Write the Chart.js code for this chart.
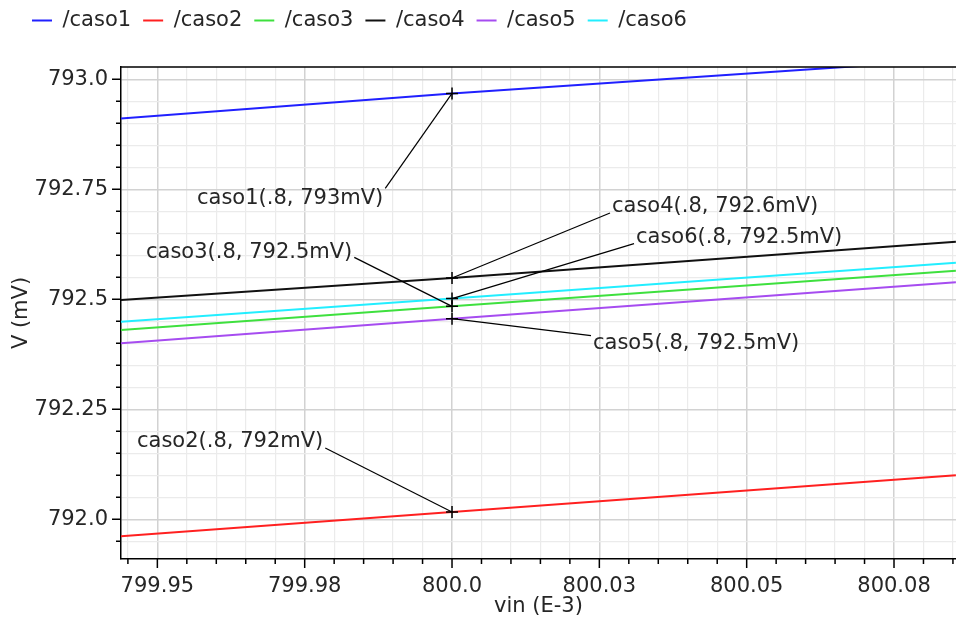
<!DOCTYPE html>
<html>
<head>
<meta charset="utf-8">
<script src="https://cdn.jsdelivr.net/npm/chart.js@4.4.1/dist/chart.umd.min.js"></script>
<style>
  html, body { margin: 0; padding: 0; background: #fff; }
  #wrap { width: 956px; height: 620px; position: relative; }
</style>
</head>
<body>
<div id="wrap"><canvas id="plot"></canvas></div>
<script>
// data (x in E-3 units, y in mV)
const xValues = [799.9438, 800.0, 800.0855];
const seriesNames = ["/caso1", "/caso2", "/caso3", "/caso4", "/caso5", "/caso6"];
const caso1 = [792.911, 792.968, 793.045];
const caso2 = [791.9614, 792.0166, 792.1];
const caso3 = [792.430, 792.484, 792.565];
const caso4 = [792.4984, 792.5484, 792.631];
const caso5 = [792.400, 792.456, 792.539];
const caso6 = [792.449, 792.5016, 792.583];
const markIndex = 1; // marker at vin = 800.0
const markLabels = [
    "caso1(.8, 793mV)",
    "caso2(.8, 792mV)",
    "caso3(.8, 792.5mV)",
    "caso4(.8, 792.6mV)",
    "caso5(.8, 792.5mV)",
    "caso6(.8, 792.5mV)",
];

const xMajorTicks = [799.95, 799.975, 800.0, 800.025, 800.05, 800.075];
const xTickLabels = ["799.95", "799.98", "800.0", "800.03", "800.05", "800.08"];
const yMajorTicks = [792.0, 792.25, 792.5, 792.75, 793.0];
const yTickLabels = ["792.0", "792.25", "792.5", "792.75", "793.0"];

const xMin = 799.94383, xMax = 800.08552;
const yMin = 791.9098, yMax = 793.028;

// styling / layout
const colors = ["#2020ff", "#ff2020", "#3ee03e", "#111111", "#a64cf0", "#22eeff"];
// label box: dx,dy from the marker (left edge / vertical middle of text), side the leader attaches, y shift of attach point
const labelLayout = [
    { dx: -255, dy: 105, side: "right", ay: -10 },
    { dx: -315, dy: -70, side: "right", ay: 6 },
    { dx: -306, dy: -54, side: "right", ay: 5 },
    { dx: 160, dy: -71, side: "left", ay: 6 },
    { dx: 141, dy: 25, side: "left", ay: -8 },
    { dx: 184, dy: -61, side: "left", ay: 6 },
];
const FONT = "DejaVu Sans";
const TEXT = "#262626";

function subTicks(majors, step, min, max) {
    const out = [];
    const start = Math.ceil((min - 1e-9) / step);
    const end = Math.floor((max + 1e-9) / step);
    for (let k = start; k <= end; k++) {
        const v = +(k * step).toFixed(6);
        if (v >= min && v <= max) out.push(v);
    }
    return out;
}
function isMajor(v, majors) {
    return majors.some(m => Math.abs(m - v) < 1e-6);
}
function labelFor(v, majors, labels) {
    const i = majors.findIndex(m => Math.abs(m - v) < 1e-6);
    return i >= 0 ? labels[i] : "";
}

const allSeries = [caso1, caso2, caso3, caso4, caso5, caso6];

const datasets = allSeries.map((vals, i) => ({
    label: seriesNames[i],
    data: vals.map((y, j) => ({ x: xValues[j], y: y })),
    borderColor: colors[i],
    backgroundColor: colors[i],
    borderWidth: 2,
    pointStyle: "cross",
    pointRadius: ctx => (ctx.dataIndex === markIndex ? 6 : 0),
    pointBorderColor: "#000",
    pointBorderWidth: 1.5,
    tension: 0,
}));

const refPlugin = {
    id: "refPlugin",
    beforeInit(chart) {
        const fit = chart.legend.fit;
        chart.legend.fit = function () {
            fit.call(this);
            this.height = 69;
        };
    },
    afterDatasetsDraw(chart) {
        const ctx = chart.ctx;
        ctx.save();
        ctx.font = "21px '" + FONT + "'";
        ctx.textBaseline = "middle";
        ctx.textAlign = "left";
        ctx.fillStyle = TEXT;
        ctx.strokeStyle = "#000";
        ctx.lineWidth = 1.2;
        markLabels.forEach((txt, i) => {
            const pt = chart.getDatasetMeta(i).data[markIndex];
            const lay = labelLayout[i];
            const tx = pt.x + lay.dx, ty = pt.y + lay.dy;
            const w = ctx.measureText(txt).width;
            const ax = lay.side === "right" ? tx + w + 2 : tx - 2;
            ctx.beginPath();
            ctx.moveTo(ax, ty + lay.ay);
            ctx.lineTo(pt.x, pt.y);
            ctx.stroke();
            ctx.fillText(txt, tx, ty);
        });
        ctx.restore();
    },
    afterDraw(chart) {
        const ctx = chart.ctx;
        const area = chart.chartArea;
        const xs = chart.scales.x, ys = chart.scales.y;
        ctx.save();
        ctx.strokeStyle = "#000";
        ctx.lineWidth = 1.5;
        ctx.beginPath();
        ctx.moveTo(area.left, area.top);
        ctx.lineTo(area.right, area.top);
        xs.ticks.forEach(t => {
            const p = xs.getPixelForValue(t.value);
            const len = isMajor(t.value, xMajorTicks) ? 9 : 5;
            ctx.moveTo(p, area.bottom);
            ctx.lineTo(p, area.bottom + len);
        });
        ys.ticks.forEach(t => {
            const p = ys.getPixelForValue(t.value);
            const len = isMajor(t.value, yMajorTicks) ? 9 : 5;
            ctx.moveTo(area.left, p);
            ctx.lineTo(area.left - len, p);
        });
        ctx.stroke();
        ctx.restore();
    },
};

const ctx = document.getElementById("plot").getContext("2d");
new Chart(ctx, {
    type: "line",
    data: { datasets: datasets },
    plugins: [refPlugin],
    options: {
        responsive: true,
        maintainAspectRatio: false,
        animation: false,
        events: [],
        layout: { padding: { left: 20, top: -2, right: 0, bottom: 0 } },
        plugins: {
            tooltip: { enabled: false },
            legend: {
                position: "top",
                align: "start",
                labels: {
                    boxWidth: 20,
                    boxHeight: 2,
                    padding: 12,
                    color: TEXT,
                    font: { family: FONT, size: 21 },
                    generateLabels: chart =>
                        Chart.defaults.plugins.legend.labels.generateLabels(chart).map(l => ({
                            ...l,
                            lineWidth: 0,
                            fillStyle: l.strokeStyle,
                        })),
                },
            },
        },
        scales: {
            x: {
                type: "linear",
                min: xMin,
                max: xMax,
                afterBuildTicks: s => {
                    s.ticks = subTicks(xMajorTicks, 0.005, xMin, xMax).map(v => ({ value: v }));
                },
                afterFit: s => {
                    s.height = 61;
                    s.paddingRight = 0;
                    s.paddingLeft = 0;
                },
                ticks: {
                    autoSkip: false,
                    maxRotation: 0,
                    padding: 0,
                    color: TEXT,
                    font: { family: FONT, size: 21 },
                    callback: v => labelFor(v, xMajorTicks, xTickLabels),
                },
                grid: {
                    drawTicks: true,
                    tickLength: 15,
                    tickColor: "rgba(0,0,0,0)",
                    color: c => (c.tick && isMajor(c.tick.value, xMajorTicks) ? "#d2d2d2" : "#ebebeb"),
                    lineWidth: c => (c.tick && isMajor(c.tick.value, xMajorTicks) ? 1.5 : 1.2),
                },
                border: { color: "#000", width: 1.5 },
                title: {
                    display: true,
                    text: "vin (E-3)",
                    color: TEXT,
                    font: { family: FONT, size: 21 },
                    padding: { top: 0, bottom: 1 },
                },
            },
            y: {
                type: "linear",
                min: yMin,
                max: yMax,
                afterBuildTicks: s => {
                    s.ticks = subTicks(yMajorTicks, 0.05, yMin, yMax).map(v => ({ value: v }));
                },
                afterFit: s => { s.width = 101; },
                ticks: {
                    autoSkip: false,
                    padding: 13,
                    color: TEXT,
                    font: { family: FONT, size: 21 },
                    callback: v => labelFor(v, yMajorTicks, yTickLabels),
                },
                grid: {
                    drawTicks: false,
                    color: c => (c.tick && isMajor(c.tick.value, yMajorTicks) ? "#d2d2d2" : "#ebebeb"),
                    lineWidth: c => (c.tick && isMajor(c.tick.value, yMajorTicks) ? 1.5 : 1.2),
                },
                border: { color: "#000", width: 1.5 },
                title: {
                    display: true,
                    text: "V (mV)",
                    color: TEXT,
                    font: { family: FONT, size: 21 },
                    padding: { top: -11, bottom: 0 },
                },
            },
        },
    },
});
</script>
</body>
</html>
